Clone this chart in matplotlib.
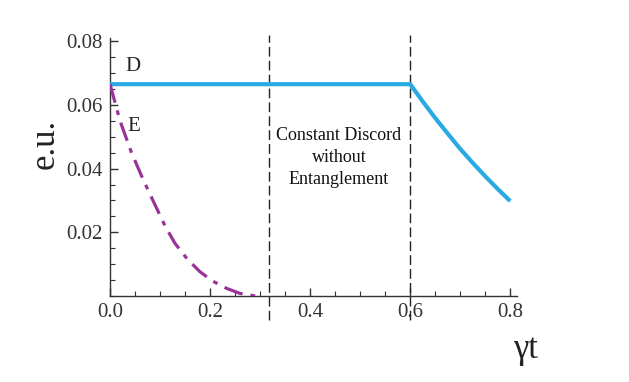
import numpy as np
import matplotlib.pyplot as plt
from matplotlib.ticker import MultipleLocator

plt.rcParams['font.family'] = ['Liberation Serif', 'DejaVu Serif']

# discord D(t): flat until 0.6, then decays
t_d = [0.0, 0.6, 0.625, 0.65, 0.675, 0.7, 0.725, 0.75, 0.775, 0.8]
D = [0.0665, 0.0665, 0.0611, 0.0559, 0.0510, 0.0462, 0.0418, 0.0376, 0.0336, 0.0298]

# entanglement E(t): sudden death near 0.3
t_e = [0.0, 0.02, 0.043, 0.065, 0.087, 0.11, 0.13, 0.155, 0.18, 0.205, 0.233, 0.26, 0.287, 0.30]
E = [0.0665, 0.055, 0.045, 0.037, 0.0296, 0.022, 0.0165, 0.0115, 0.0076, 0.0047, 0.0024, 0.0008, 0.0001, 0.0]

t_marks = [0.317, 0.6]
xticks = [0.0, 0.2, 0.4, 0.6, 0.8]
xlabels = ['0.0', '0.2', '0.4', '0.6', '0.8']
yticks = [0.02, 0.04, 0.06, 0.08]
ylabels = ['0.02', '0.04', '0.06', '0.08']

fig = plt.figure(figsize=(6.29, 3.82), dpi=100)
ax = fig.add_axes([0.1749, 0.2251, 0.6466, 0.6754])

ax.plot(t_d, D, color='#29aae2', lw=3.0, solid_capstyle='butt', zorder=3)
ax.plot(t_e, E, color='#993399', lw=2.3, dashes=(6, 2.5, 1.5, 2.5), zorder=3)

for tm in t_marks:
    ax.plot([tm, tm], [-0.0075, 0.082], color='#222222', lw=1.0,
            dashes=(7, 3), clip_on=False, zorder=2)

ax.set_xlim(0, 0.813)
ax.set_ylim(0, 0.081)
for s in ['top', 'right']:
    ax.spines[s].set_visible(False)
for s in ['left', 'bottom']:
    ax.spines[s].set_color('#333333')
    ax.spines[s].set_linewidth(1.0)

ax.set_xticks(xticks)
ax.set_xticklabels(xlabels)
ax.xaxis.set_minor_locator(MultipleLocator(0.05))
ax.set_yticks(yticks)
ax.set_yticklabels(ylabels)
ax.yaxis.set_minor_locator(MultipleLocator(0.005))
ax.tick_params(which='major', direction='in', length=6, width=1.0, color='#333333',
               labelsize=15, labelcolor='#333333', pad=5)
ax.tick_params(which='minor', direction='in', length=3.5, width=0.8, color='#333333')

ax.text(0.031, 0.0705, 'D', fontsize=15, color='#222222')
ax.text(0.035, 0.0518, 'E', fontsize=15, color='#222222')
ax.text(0.4575, 0.0435, 'Constant Discord\nwithout\nEntanglement', fontsize=13,
        ha='center', va='center', linespacing=1.35, color='#111111')

fig.text(0.072, 0.623, 'e.u.', fontsize=25, rotation=90, ha='center', va='center', color='#222222')
fig.text(0.835, 0.085, 'γt', fontsize=25, ha='center', va='center', color='#222222')

fig.savefig('out.png', dpi=100)
